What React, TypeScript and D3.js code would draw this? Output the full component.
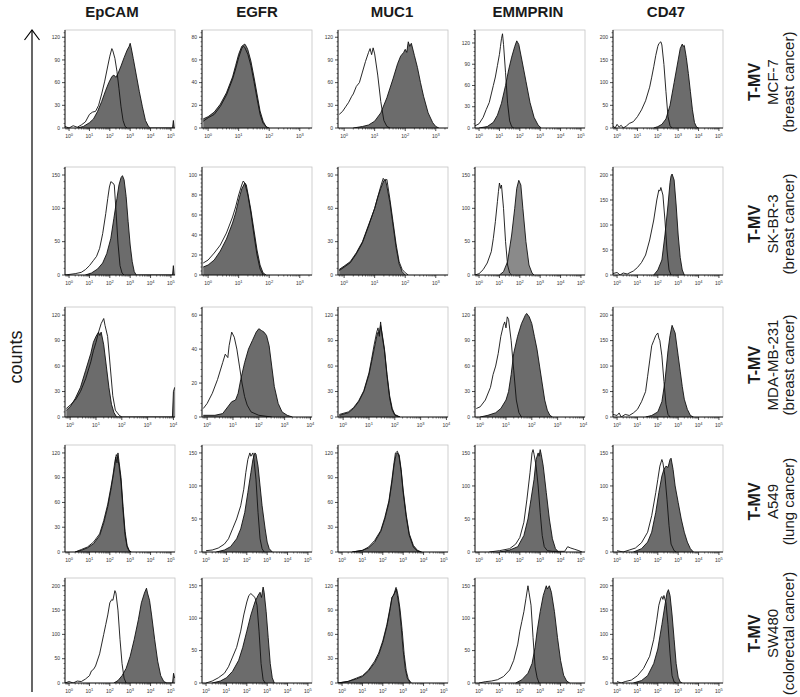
import React from "react";
import * as d3 from "d3";

type Pt = [number, number];

// ---------- labels ----------
const MARKERS = ["EpCAM", "EGFR", "MUC1", "EMMPRIN", "CD47"];
const CELL_LINES = ["MCF-7", "SK-BR-3", "MDA-MB-231", "A549", "SW480"];
const DISEASES = ["(breast cancer)", "(breast cancer)", "(breast cancer)", "(lung cancer)", "(colorectal cancer)"];
const ROW_TAG = "T-MV";
const AXIS_TITLE = "counts";

// ---------- axes (per row, per marker) ----------
const X_DECADES = [
  [5, 3, 3, 5, 5],
  [5, 3, 3, 5, 5],
  [4, 4, 4, 4, 5],
  [5, 5, 5, 5, 5],
  [5, 5, 5, 5, 5],
];
const Y_TOP_TICK = [
  [120, 80, 120, 120, 200],
  [150, 100, 90, 150, 200],
  [120, 60, 120, 120, 200],
  [120, 150, 120, 150, 150],
  [200, 150, 120, 150, 200],
];
const Y_STEP = [
  [30, 20, 30, 30, 50],
  [50, 20, 30, 50, 50],
  [30, 20, 30, 30, 50],
  [30, 50, 30, 50, 50],
  [50, 50, 30, 50, 50],
];

// ---------- histograms: [log10 intensity, count] ----------
// Row 1: MCF-7
const R1_EPCAM_CTRL: Pt[] = [[-0.2,2],[0,0],[0.2,3],[0.4,1],[0.6,4],[0.8,8],[1.0,18],[1.15,21],[1.3,22],[1.45,30],[1.6,45],[1.75,62],[1.9,82],[2.0,95],[2.1,105],[2.15,102],[2.25,92],[2.35,75],[2.45,52],[2.55,28],[2.65,10],[2.75,2],[2.85,0]];
const R1_EPCAM_POS: Pt[] = [[0.4,0],[0.7,2],[1.0,7],[1.2,12],[1.4,22],[1.6,35],[1.8,50],[1.95,60],[2.1,68],[2.2,70],[2.3,67],[2.4,72],[2.55,82],[2.7,93],[2.85,103],[2.95,108],[3.0,112],[3.05,106],[3.15,92],[3.3,70],[3.45,48],[3.6,28],[3.75,10],[3.9,2],[4.0,0],[5.08,0],[5.12,10],[5.16,0]];
const R1_EGFR_CTRL: Pt[] = [[-0.16,6],[0,9],[0.2,12],[0.4,19],[0.6,29],[0.8,43],[0.9,52],[1.0,62],[1.1,70],[1.15,72],[1.2,71],[1.3,65],[1.4,55],[1.5,41],[1.6,26],[1.7,12],[1.8,4],[1.95,0]];
const R1_EGFR_POS: Pt[] = [[-0.16,8],[0,10],[0.2,14],[0.4,21],[0.6,31],[0.8,45],[0.9,55],[1.0,65],[1.1,72],[1.2,74],[1.25,72],[1.3,69],[1.4,59],[1.5,45],[1.6,30],[1.7,15],[1.8,6],[1.9,1],[2.0,0]];
const R1_MUC1_CTRL: Pt[] = [[-0.16,18],[-0.05,22],[0.05,28],[0.15,34],[0.25,42],[0.3,45],[0.4,55],[0.5,60],[0.6,74],[0.7,88],[0.8,100],[0.85,105],[0.9,97],[0.95,106],[1.0,98],[1.1,70],[1.2,35],[1.3,10],[1.4,2],[1.5,0]];
const R1_MUC1_POS: Pt[] = [[0.3,0],[0.6,2],[0.8,4],[1.0,9],[1.2,20],[1.4,40],[1.6,65],[1.75,85],[1.85,95],[1.95,100],[2.0,104],[2.05,100],[2.1,114],[2.15,108],[2.2,112],[2.3,96],[2.4,80],[2.5,60],[2.6,42],[2.75,20],[2.9,7],[3.0,2],[3.1,0]];
const R1_EMMPRIN_CTRL: Pt[] = [[-0.2,3],[0,6],[0.2,15],[0.35,26],[0.5,36],[0.6,48],[0.7,60],[0.8,72],[0.9,88],[1.0,104],[1.05,115],[1.1,126],[1.15,133],[1.2,118],[1.3,78],[1.4,35],[1.5,10],[1.6,2],[1.7,0]];
const R1_EMMPRIN_POS: Pt[] = [[0,0],[0.4,2],[0.7,8],[0.9,18],[1.1,35],[1.3,60],[1.45,82],[1.6,100],[1.75,115],[1.85,123],[1.95,118],[2.1,96],[2.3,66],[2.5,36],[2.7,15],[2.9,4],[3.05,0]];
const R1_CD47_CTRL: Pt[] = [[-0.2,5],[-0.1,0],[0,8],[0.1,2],[0.2,6],[0.3,0],[0.45,4],[0.6,10],[0.8,14],[1.0,25],[1.2,40],[1.4,60],[1.6,90],[1.7,112],[1.8,135],[1.9,160],[2.0,180],[2.05,186],[2.15,190],[2.2,183],[2.3,140],[2.4,80],[2.5,25],[2.6,5],[2.7,0]];
const R1_CD47_POS: Pt[] = [[1.8,0],[2.0,3],[2.2,8],[2.4,20],[2.6,50],[2.8,100],[3.0,150],[3.1,175],[3.2,185],[3.25,180],[3.3,182],[3.4,155],[3.5,120],[3.6,80],[3.7,40],[3.8,12],[3.9,2],[4.0,0]];

// Row 2: SK-BR-3
const R2_EPCAM_CTRL: Pt[] = [[-0.2,0],[0.3,2],[0.6,4],[0.8,8],[1.0,14],[1.2,22],[1.35,28],[1.5,40],[1.65,62],[1.8,92],[1.9,115],[1.98,132],[2.05,140],[2.15,138],[2.22,135],[2.3,98],[2.4,48],[2.5,14],[2.6,3],[2.7,0]];
const R2_EPCAM_POS: Pt[] = [[0.8,0],[1.1,3],[1.4,9],[1.65,18],[1.85,32],[2.05,55],[2.2,85],[2.35,115],[2.45,135],[2.55,146],[2.62,149],[2.7,143],[2.8,118],[2.9,80],[3.0,45],[3.1,20],[3.2,5],[3.3,0],[5.08,0],[5.12,14],[5.16,0]];
const R2_EGFR_CTRL: Pt[] = [[-0.16,12],[0,15],[0.2,22],[0.4,30],[0.6,42],[0.8,58],[0.9,68],[1.0,80],[1.1,90],[1.15,94],[1.2,92],[1.3,80],[1.4,62],[1.5,40],[1.6,20],[1.7,6],[1.8,0]];
const R2_EGFR_POS: Pt[] = [[-0.16,8],[0,10],[0.2,15],[0.4,24],[0.6,36],[0.8,52],[0.9,62],[1.0,75],[1.1,86],[1.2,92],[1.25,90],[1.3,82],[1.4,65],[1.5,45],[1.6,25],[1.7,10],[1.8,2],[1.9,0]];
const R2_MUC1_CTRL: Pt[] = [[-0.16,4],[0,7],[0.2,11],[0.4,19],[0.6,29],[0.8,44],[1.0,60],[1.1,70],[1.2,80],[1.28,87],[1.33,85],[1.4,86],[1.5,68],[1.6,48],[1.7,28],[1.8,12],[1.9,5],[2.0,2],[2.1,0]];
const R2_MUC1_POS: Pt[] = [[-0.16,5],[0,8],[0.2,12],[0.4,20],[0.6,30],[0.8,45],[1.0,60],[1.1,70],[1.2,78],[1.3,85],[1.35,86],[1.4,80],[1.5,65],[1.6,45],[1.7,25],[1.8,10],[1.9,3],[2.0,0]];
const R2_EMMPRIN_CTRL: Pt[] = [[-0.2,0],[0,2],[0.2,8],[0.4,18],[0.6,35],[0.7,55],[0.8,80],[0.9,110],[0.95,125],[1.0,138],[1.05,130],[1.1,135],[1.2,100],[1.3,50],[1.4,15],[1.5,3],[1.6,0]];
const R2_EMMPRIN_POS: Pt[] = [[1.0,0],[1.2,5],[1.4,20],[1.6,60],[1.75,100],[1.85,130],[1.95,142],[2.05,135],[2.15,100],[2.3,50],[2.45,15],[2.6,3],[2.7,0]];
const R2_CD47_CTRL: Pt[] = [[-0.2,3],[0,5],[0.15,0],[0.3,4],[0.5,2],[0.8,8],[1.0,15],[1.2,25],[1.4,40],[1.6,70],[1.8,110],[1.95,150],[2.05,170],[2.1,168],[2.15,175],[2.25,160],[2.35,110],[2.45,50],[2.55,10],[2.65,0]];
const R2_CD47_POS: Pt[] = [[1.8,0],[2.0,10],[2.2,30],[2.35,80],[2.5,140],[2.6,185],[2.65,198],[2.7,202],[2.8,190],[2.9,140],[3.0,80],[3.1,35],[3.2,10],[3.3,0]];

// Row 3: MDA-MB-231
const R3_EPCAM_CTRL: Pt[] = [[-0.15,10],[0,14],[0.2,20],[0.4,30],[0.6,45],[0.8,65],[0.9,78],[1.0,88],[1.1,100],[1.2,110],[1.3,116],[1.35,108],[1.45,95],[1.55,60],[1.65,25],[1.75,8],[1.9,2],[2.0,0]];
const R3_EPCAM_POS: Pt[] = [[-0.15,8],[0,12],[0.2,22],[0.4,35],[0.6,55],[0.8,75],[0.9,88],[1.0,95],[1.1,100],[1.15,96],[1.2,100],[1.3,85],[1.4,60],[1.5,35],[1.6,15],[1.7,5],[1.8,0],[3.96,0],[4.0,30],[4.05,35]];
const R3_EGFR_CTRL: Pt[] = [[-0.15,5],[0,8],[0.2,14],[0.4,22],[0.6,32],[0.7,37],[0.8,35],[0.85,42],[0.95,50],[1.05,47],[1.15,40],[1.25,30],[1.35,20],[1.45,12],[1.55,7],[1.7,3],[2.0,1],[2.5,0]];
const R3_EGFR_POS: Pt[] = [[-0.15,1],[0.3,1],[0.6,2],[0.8,6],[0.95,9],[1.1,10],[1.2,14],[1.3,22],[1.45,32],[1.6,40],[1.75,45],[1.9,50],[2.0,52],[2.1,51],[2.2,50],[2.3,48],[2.4,42],[2.5,30],[2.6,18],[2.75,8],[2.9,3],[3.1,1],[3.3,0]];
const R3_MUC1_CTRL: Pt[] = [[-0.15,3],[0.2,6],[0.4,11],[0.6,19],[0.8,31],[1.0,52],[1.1,68],[1.2,85],[1.3,100],[1.35,105],[1.4,95],[1.45,112],[1.5,98],[1.6,78],[1.7,48],[1.8,22],[1.9,8],[2.0,2],[2.2,0]];
const R3_MUC1_POS: Pt[] = [[-0.15,2],[0.2,5],[0.4,10],[0.6,18],[0.8,30],[1.0,50],[1.1,65],[1.2,80],[1.3,95],[1.35,100],[1.4,98],[1.45,108],[1.5,100],[1.6,80],[1.7,50],[1.8,25],[1.9,10],[2.0,3],[2.2,0]];
const R3_EMMPRIN_CTRL: Pt[] = [[-0.15,10],[0,12],[0.2,20],[0.4,35],[0.5,50],[0.6,60],[0.7,75],[0.8,95],[0.9,108],[0.95,112],[1.0,105],[1.05,118],[1.1,115],[1.2,90],[1.3,55],[1.4,20],[1.5,5],[1.6,0]];
const R3_EMMPRIN_POS: Pt[] = [[0,0],[0.3,2],[0.6,5],[0.8,10],[1.0,20],[1.1,30],[1.2,50],[1.3,75],[1.45,95],[1.6,110],[1.75,120],[1.8,122],[1.9,118],[2.0,110],[2.1,95],[2.2,80],[2.3,60],[2.4,40],[2.5,20],[2.6,8],[2.7,2],[2.8,0]];
const R3_CD47_CTRL: Pt[] = [[-0.2,5],[0,3],[0.1,8],[0.2,0],[0.4,5],[0.6,3],[0.8,8],[1.0,15],[1.2,30],[1.4,50],[1.5,80],[1.6,110],[1.7,140],[1.8,150],[1.9,160],[2.0,165],[2.05,155],[2.1,150],[2.2,120],[2.3,70],[2.4,25],[2.5,5],[2.6,0]];
const R3_CD47_POS: Pt[] = [[1.4,0],[1.7,3],[2.0,10],[2.2,30],[2.35,70],[2.5,130],[2.6,160],[2.7,180],[2.75,175],[2.85,165],[3.0,120],[3.1,90],[3.2,60],[3.3,35],[3.45,15],[3.6,3],[3.75,0]];

// Row 4: A549
const R4_EPCAM_CTRL: Pt[] = [[0.3,0],[0.6,3],[0.9,6],[1.2,12],[1.5,22],[1.7,38],[1.9,58],[2.05,78],[2.15,92],[2.25,110],[2.32,118],[2.4,112],[2.45,105],[2.55,85],[2.65,50],[2.75,20],[2.85,6],[2.95,1],[3.05,0]];
const R4_EPCAM_POS: Pt[] = [[0.3,0],[0.6,2],[0.9,5],[1.2,10],[1.5,20],[1.7,35],[1.9,55],[2.05,75],[2.15,90],[2.25,105],[2.3,115],[2.35,108],[2.4,120],[2.45,110],[2.55,90],[2.65,55],[2.75,25],[2.85,8],[2.95,2],[3.05,0]];
const R4_EGFR_CTRL: Pt[] = [[0,2],[0.3,3],[0.6,6],[0.9,12],[1.1,20],[1.3,35],[1.5,50],[1.7,70],[1.85,95],[1.95,120],[2.05,140],[2.15,150],[2.2,145],[2.3,150],[2.35,140],[2.45,110],[2.55,60],[2.65,20],[2.75,5],[2.85,0]];
const R4_EGFR_POS: Pt[] = [[0.5,0],[0.9,3],[1.2,8],[1.5,20],[1.7,35],[1.9,60],[2.05,90],[2.2,120],[2.3,140],[2.4,150],[2.45,148],[2.55,130],[2.65,100],[2.75,70],[2.9,35],[3.0,15],[3.1,5],[3.25,0]];
const R4_MUC1_CTRL: Pt[] = [[0.5,0],[1.0,2],[1.3,6],[1.6,14],[1.9,26],[2.1,42],[2.3,62],[2.45,88],[2.55,108],[2.62,120],[2.72,122],[2.8,115],[2.9,98],[3.0,72],[3.15,42],[3.3,20],[3.5,6],[3.7,1],[3.9,0]];
const R4_MUC1_POS: Pt[] = [[0.5,0],[1.0,2],[1.3,5],[1.6,12],[1.9,25],[2.1,40],[2.3,60],[2.45,85],[2.55,105],[2.65,118],[2.7,120],[2.8,118],[2.9,100],[3.0,75],[3.15,45],[3.3,22],[3.5,8],[3.7,2],[3.9,0]];
const R4_EMMPRIN_CTRL: Pt[] = [[0.5,0],[1.0,2],[1.5,5],[1.8,12],[2.0,22],[2.2,45],[2.35,80],[2.5,120],[2.6,150],[2.65,155],[2.7,148],[2.8,130],[2.9,100],[3.0,60],[3.1,25],[3.2,8],[3.35,2],[3.6,1],[4.2,1],[4.35,8],[4.5,6],[4.7,4],[4.9,2],[5.05,0]];
const R4_EMMPRIN_POS: Pt[] = [[1.0,0],[1.5,3],[1.9,8],[2.2,25],[2.4,50],[2.55,80],[2.7,110],[2.8,140],[2.9,150],[2.95,145],[3.0,155],[3.05,148],[3.15,130],[3.3,90],[3.45,50],[3.6,20],[3.75,5],[3.9,0]];
const R4_CD47_CTRL: Pt[] = [[0,2],[0.3,0],[0.6,3],[0.9,6],[1.2,14],[1.5,30],[1.7,55],[1.9,90],[2.0,110],[2.1,130],[2.2,140],[2.25,135],[2.35,115],[2.45,80],[2.55,40],[2.65,12],[2.8,2],[2.9,0]];
const R4_CD47_POS: Pt[] = [[0.8,0],[1.2,5],[1.5,15],[1.7,30],[1.9,60],[2.05,90],[2.2,115],[2.3,125],[2.4,130],[2.5,128],[2.6,140],[2.65,142],[2.75,125],[2.85,100],[3.0,75],[3.15,50],[3.3,30],[3.45,15],[3.6,5],[3.75,0]];

// Row 5: SW480
const R5_EPCAM_CTRL: Pt[] = [[-0.2,0],[0,3],[0.2,0],[0.4,4],[0.6,3],[0.8,8],[1.0,15],[1.1,25],[1.2,28],[1.3,35],[1.5,60],[1.7,100],[1.8,120],[1.9,140],[2.0,165],[2.1,172],[2.15,170],[2.25,190],[2.3,185],[2.4,150],[2.5,90],[2.6,40],[2.7,10],[2.8,0]];
const R5_EPCAM_POS: Pt[] = [[2.2,0],[2.4,5],[2.6,15],[2.8,30],[3.0,55],[3.2,90],[3.4,130],[3.55,165],[3.7,185],[3.8,195],[3.85,185],[3.95,170],[4.05,140],[4.2,90],[4.35,45],[4.5,15],[4.65,3],[4.8,0],[5.08,0],[5.13,20],[5.18,10]];
const R5_EGFR_CTRL: Pt[] = [[0,0],[0.3,3],[0.6,8],[0.9,15],[1.1,25],[1.3,40],[1.5,55],[1.7,80],[1.85,105],[2.0,125],[2.1,135],[2.2,138],[2.3,135],[2.4,132],[2.5,120],[2.6,80],[2.7,30],[2.8,5],[2.9,0]];
const R5_EGFR_POS: Pt[] = [[0.3,0],[0.7,3],[1.0,8],[1.3,18],[1.6,35],[1.8,55],[2.0,80],[2.2,105],[2.4,125],[2.55,135],[2.65,140],[2.72,132],[2.8,148],[2.85,140],[2.95,110],[3.05,70],[3.15,30],[3.25,8],[3.35,0]];
const R5_MUC1_CTRL: Pt[] = [[-0.2,0],[0.3,2],[0.7,6],[1.0,9],[1.3,16],[1.6,27],[1.8,37],[2.0,52],[2.2,72],[2.35,92],[2.45,106],[2.52,108],[2.6,112],[2.68,116],[2.75,108],[2.85,90],[2.95,65],[3.05,35],[3.15,15],[3.25,5],[3.4,0]];
const R5_MUC1_POS: Pt[] = [[-0.2,0],[0.3,2],[0.7,5],[1.0,8],[1.3,15],[1.6,25],[1.8,35],[2.0,50],[2.2,70],[2.35,90],[2.45,105],[2.55,110],[2.65,118],[2.7,110],[2.8,95],[2.9,70],[3.0,40],[3.1,18],[3.2,6],[3.35,0]];
const R5_EMMPRIN_CTRL: Pt[] = [[0,0],[0.3,2],[0.6,3],[0.9,5],[1.2,10],[1.5,20],[1.7,35],[1.9,60],[2.0,80],[2.1,95],[2.2,110],[2.3,130],[2.4,150],[2.45,140],[2.55,120],[2.65,70],[2.75,25],[2.85,8],[2.95,0]];
const R5_EMMPRIN_POS: Pt[] = [[1.8,0],[2.1,5],[2.4,15],[2.6,30],[2.75,55],[2.85,80],[3.0,110],[3.15,135],[3.3,150],[3.35,145],[3.45,150],[3.55,140],[3.7,110],[3.85,70],[4.0,35],[4.15,12],[4.3,3],[4.45,0]];
const R5_CD47_CTRL: Pt[] = [[0,3],[0.2,0],[0.4,3],[0.7,6],[1.0,15],[1.3,30],[1.6,55],[1.8,90],[1.95,130],[2.05,160],[2.15,175],[2.2,178],[2.25,172],[2.3,180],[2.4,165],[2.5,120],[2.6,60],[2.7,15],[2.8,2],[2.9,0]];
const R5_CD47_POS: Pt[] = [[0.8,0],[1.2,5],[1.5,15],[1.8,40],[2.0,70],[2.2,120],[2.35,160],[2.45,185],[2.52,192],[2.6,180],[2.7,140],[2.8,90],[2.9,40],[3.0,12],[3.1,2],[3.2,0]];

const CONTROLS: Pt[][][] = [
  [R1_EPCAM_CTRL, R1_EGFR_CTRL, R1_MUC1_CTRL, R1_EMMPRIN_CTRL, R1_CD47_CTRL],
  [R2_EPCAM_CTRL, R2_EGFR_CTRL, R2_MUC1_CTRL, R2_EMMPRIN_CTRL, R2_CD47_CTRL],
  [R3_EPCAM_CTRL, R3_EGFR_CTRL, R3_MUC1_CTRL, R3_EMMPRIN_CTRL, R3_CD47_CTRL],
  [R4_EPCAM_CTRL, R4_EGFR_CTRL, R4_MUC1_CTRL, R4_EMMPRIN_CTRL, R4_CD47_CTRL],
  [R5_EPCAM_CTRL, R5_EGFR_CTRL, R5_MUC1_CTRL, R5_EMMPRIN_CTRL, R5_CD47_CTRL],
];
const STAINED: Pt[][][] = [
  [R1_EPCAM_POS, R1_EGFR_POS, R1_MUC1_POS, R1_EMMPRIN_POS, R1_CD47_POS],
  [R2_EPCAM_POS, R2_EGFR_POS, R2_MUC1_POS, R2_EMMPRIN_POS, R2_CD47_POS],
  [R3_EPCAM_POS, R3_EGFR_POS, R3_MUC1_POS, R3_EMMPRIN_POS, R3_CD47_POS],
  [R4_EPCAM_POS, R4_EGFR_POS, R4_MUC1_POS, R4_EMMPRIN_POS, R4_CD47_POS],
  [R5_EPCAM_POS, R5_EGFR_POS, R5_MUC1_POS, R5_EMMPRIN_POS, R5_CD47_POS],
];

// ---------- layout ----------
const COL_X = [65, 202, 338, 475, 613];
const HEADER_X = [112, 257, 392, 528, 666];
const PANEL_W = 110;
const ROW_TOP = [30, 167, 307, 445, 578];
const ROW_BOTTOM = [128, 275, 417, 552, 683];
const X_START = -0.2;
const X_END: Record<number, number> = { 3: 3.4, 4: 4.06, 5: 5.2 };
const FONT = "'Liberation Sans', Arial, Helvetica, sans-serif";
const FILL = "#6c6c6c";
const FILL_LIGHT = "#8a8a8a";

function Panel({ r, c }: { r: number; c: number }) {
  const x0 = COL_X[c];
  const x1 = x0 + PANEL_W;
  const y0 = ROW_TOP[r];
  const y1 = ROW_BOTTOM[r];
  const dec = X_DECADES[r][c];
  const ctrl = CONTROLS[r][c];
  const pos = STAINED[r][c];
  const topTick = Y_TOP_TICK[r][c];
  const step = Y_STEP[r][c];
  const peak = Math.max(d3.max(ctrl, (d) => d[1]) || 0, d3.max(pos, (d) => d[1]) || 0);
  const yMax = Math.max(topTick * 1.08, peak * 1.04);

  const xs = d3.scaleLinear().domain([X_START, X_END[dec]]).range([x0, x1]);
  const ys = d3.scaleLinear().domain([0, yMax]).range([y1, y0]);

  const area = d3.area<Pt>().x((d) => xs(d[0])).y0(ys(0)).y1((d) => ys(d[1]));
  const line = d3.line<Pt>().x((d) => xs(d[0])).y((d) => ys(d[1]));

  const yTicks = d3.range(0, topTick + 0.001, step);
  const yMinor = d3.range(0, yMax, step / 5).filter((v) => Math.abs(v / step - Math.round(v / step)) > 1e-6);
  const xMajor = d3.range(0, dec + 1);
  const xMinor: number[] = [];
  for (let k = -1; k <= dec; k++) {
    for (let m = 2; m <= 9; m++) {
      const v = k + Math.log10(m);
      if (v > X_START && v < X_END[dec]) xMinor.push(v);
    }
  }
  const clipId = `clip-${r}-${c}`;
  const fill = r === 1 && c === 3 ? FILL_LIGHT : FILL;

  return (
    <g>
      <defs>
        <clipPath id={clipId}>
          <rect x={x0} y={y0} width={PANEL_W} height={y1 - y0} />
        </clipPath>
      </defs>
      <rect x={x0} y={y0} width={PANEL_W} height={y1 - y0} fill="#fff" stroke="#c4c4c4" strokeWidth={0.8} />
      <g clipPath={`url(#${clipId})`}>
        <path d={area(pos) || ""} fill={fill} stroke="none" />
        <path d={line(pos) || ""} fill="none" stroke="#111" strokeWidth={0.9} strokeLinejoin="round" />
        <path d={line(ctrl) || ""} fill="none" stroke="#111" strokeWidth={0.9} strokeLinejoin="round" />
      </g>
      {/* y axis */}
      <line x1={x0} x2={x0} y1={y0} y2={y1} stroke="#000" strokeWidth={0.9} />
      {yTicks.map((t) => (
        <g key={`yt${t}`}>
          <line x1={x0 - 3} x2={x0} y1={ys(t)} y2={ys(t)} stroke="#000" strokeWidth={0.7} />
          <text x={x0 - 5} y={ys(t)} dy="0.35em" textAnchor="end" fontSize={5} fill="#333" fontFamily={FONT}>
            {t}
          </text>
        </g>
      ))}
      {yMinor.map((t, i) => (
        <line key={`ym${i}`} x1={x0 - 1.5} x2={x0} y1={ys(t)} y2={ys(t)} stroke="#000" strokeWidth={0.5} />
      ))}
      {/* x axis */}
      <line x1={x0} x2={x1} y1={y1} y2={y1} stroke="#000" strokeWidth={0.9} />
      {xMajor.map((t) => (
        <g key={`xt${t}`}>
          <line x1={xs(t)} x2={xs(t)} y1={y1} y2={y1 + 3} stroke="#000" strokeWidth={0.7} />
          <text x={xs(t)} y={y1 + 10} textAnchor="middle" fontSize={5} fill="#333" fontFamily={FONT}>
            10<tspan dy={-2.5} fontSize={4}>{t}</tspan>
          </text>
        </g>
      ))}
      {xMinor.map((t, i) => (
        <line key={`xm${i}`} x1={xs(t)} x2={xs(t)} y1={y1} y2={y1 + 1.6} stroke="#000" strokeWidth={0.5} />
      ))}
    </g>
  );
}

export default function App() {
  return (
    <svg
      width={800}
      height={697}
      viewBox="0 0 800 697"
      style={{ position: "absolute", left: 0, top: 0, display: "block", background: "#fff" }}
      fontFamily={FONT}
    >
      <rect x={0} y={0} width={800} height={697} fill="#fff" />
      {/* column headers */}
      {MARKERS.map((m, c) => (
        <text key={m} x={HEADER_X[c]} y={17} textAnchor="middle" fontSize={15} fontWeight="bold" fill="#1a1a1a">
          {m}
        </text>
      ))}
      {/* panels */}
      {CELL_LINES.map((_, r) => MARKERS.map((_, c) => <Panel key={`${r}-${c}`} r={r} c={c} />))}
      {/* row labels */}
      {CELL_LINES.map((name, r) => {
        const cy = (ROW_TOP[r] + ROW_BOTTOM[r]) / 2 + 3;
        return (
          <g key={name}>
            <text transform={`translate(760, ${cy}) rotate(-90)`} textAnchor="middle" fontSize={16} fontWeight="bold" fill="#1a1a1a">
              {ROW_TAG}
            </text>
            <text transform={`translate(778, ${cy}) rotate(-90)`} textAnchor="middle" fontSize={15} fill="#1a1a1a">
              {name}
            </text>
            <text transform={`translate(794, ${cy}) rotate(-90)`} textAnchor="middle" fontSize={15} fill="#1a1a1a">
              {DISEASES[r]}
            </text>
          </g>
        );
      })}
      {/* counts arrow */}
      <line x1={32} x2={32} y1={692} y2={30} stroke="#000" strokeWidth={1.2} />
      <polyline points="24.5,40 32,30 39.5,40" fill="none" stroke="#000" strokeWidth={1.2} />
      <text transform="translate(22, 357) rotate(-90)" textAnchor="middle" fontSize={18} fill="#1a1a1a">
        {AXIS_TITLE}
      </text>
    </svg>
  );
}
